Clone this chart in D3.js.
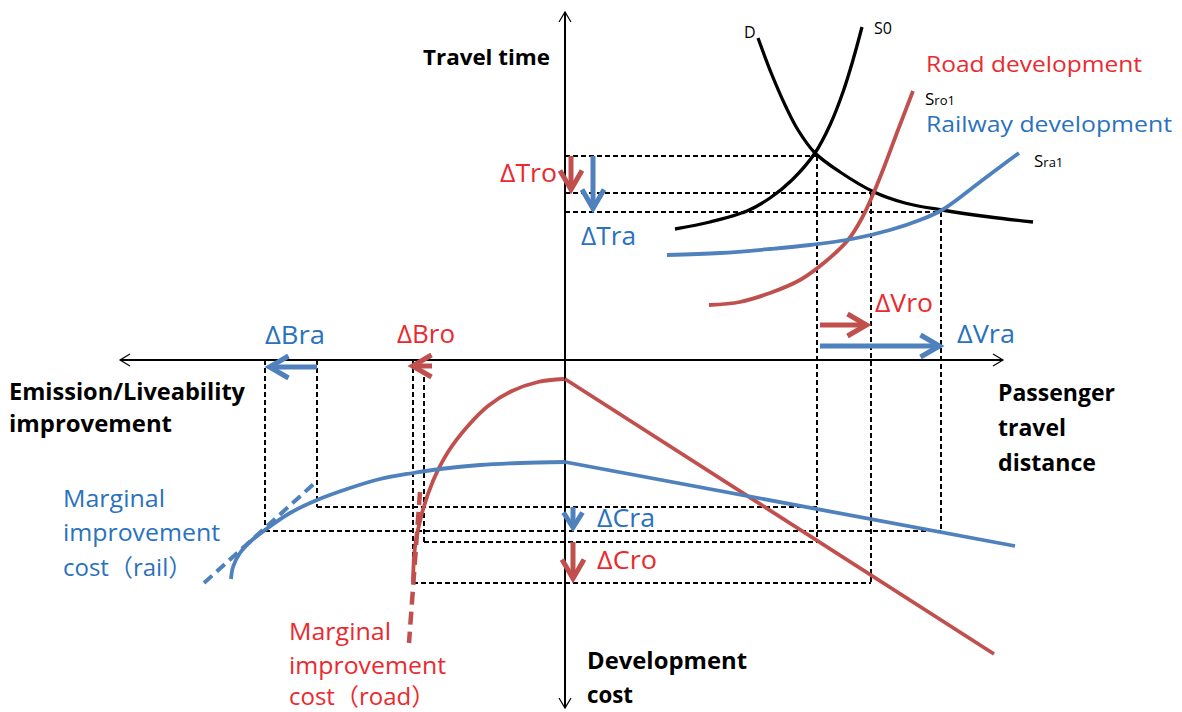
<!DOCTYPE html>
<html><head><meta charset="utf-8">
<script src="https://cdn.jsdelivr.net/npm/d3@7"></script>
<style>body{margin:0;background:#fff}svg{display:block}</style>
</head><body>
<svg id="chart" width="1182" height="712"></svg>
<script>
// ---------- DATA (abstract diagram units; origin = axes crossing) ----------
// Top-right quadrant: travel distance (x) vs travel time (y)
const demandD    = [[19.3,32.2],[20.7,28.5],[22.1,25.3],[23.3,23.0],[25.0,20.7],[27.5,18.8],[30.9,16.8],[34.0,15.7],[37.7,15.0],[42.5,14.3],[46.8,13.8]];
const supplyS0   = [[11.0,13.1],[14.5,13.8],[18.2,14.9],[20.5,16.2],[22.7,18.0],[25.0,20.7],[26.5,23.5],[27.8,26.8],[28.8,30.0],[29.7,33.3]];
const supplyRoad = [[14.4,5.5],[17.5,5.8],[20.5,6.7],[23.5,8.0],[26.0,9.8],[28.3,12.0],[29.7,14.2],[30.9,16.8],[32.1,19.8],[33.3,23.0],[34.8,26.9]];
const supplyRail = [[10.2,10.5],[15.5,10.7],[20.5,11.1],[24.5,11.5],[28.7,12.1],[32.5,13.0],[35.5,14.0],[37.7,15.0],[41.5,17.8],[43.5,19.3],[45.4,20.7]];
// Bottom: development cost (negative y) vs improvement (negative x) and distance (positive x)
const roadImproveCurve = [[-15.2,-22.2],[-15.0,-18.7],[-14.3,-15.3],[-13.2,-12.1],[-11.7,-9.2],[-9.8,-6.7],[-7.7,-4.6],[-5.3,-3.1],[-2.7,-2.2],[-0.1,-1.9]];
const roadCostLine     = [[0,-1.9],[42.9,-29.4]];
const railImproveCurve = [[-33.4,-21.9],[-33.2,-20.7],[-32.5,-19.3],[-31.4,-18.1],[-30.0,-17.0],[-27.5,-15.3],[-24.8,-14.0],[-21.5,-12.8],[-18.5,-11.9],[-15.2,-11.3],[-12.5,-10.9],[-8.5,-10.5],[-4.5,-10.3],[0,-10.2]];
const railCostLine     = [[0,-10.2],[45.0,-18.6]];
const railMarginalTangent = [[-36.1,-22.3],[-24.8,-12.1]];
const roadMarginalTangent = [[-14.5,-13.2],[-15.6,-28.3]];
// Equilibrium levels
const distanceLevels = [25.2, 30.6, 37.6];          // V0, Vro, Vra
const timeLevels     = [20.4, 16.7, 14.8];          // T0, Tro, Tra
const costLevels     = [-14.7, -17.1, -18.2, -22.3];// Cra0, Cra1, Cro0, Cro1
const benefitLevels  = [-24.8, -30.0, -14.1, -15.2];// Bra0, Bra1, Bro0, Bro1
// Axis extents
const xAxisExtent = [-44.5, 43.8];
const yAxisExtent = [-34.8, 34.8];

// ---------- RENDER ----------
const svg = d3.select('#chart');
const x = d3.scaleLinear().domain([-56.5, 61.7]).range([0, 1182]);
const y = d3.scaleLinear().domain([-35.2, 36]).range([712, 0]);

const RED_LINE = '#c0504d', BLUE_LINE = '#4f81bd';
const RED_TEXT = '#ea2a2e', BLUE_TEXT = '#2a72bd';
const FONT = "'Open Sans','Noto Sans CJK JP',sans-serif";

const smooth = d3.line().x(d => x(d[0])).y(d => y(d[1])).curve(d3.curveCatmullRom.alpha(0.5));
const straight = d3.line().x(d => x(d[0])).y(d => y(d[1]));

// guides (dashed)
const [V0, Vro, Vra] = distanceLevels;
const [T0, Tro, Tra] = timeLevels;
const [Cra0, Cra1, Cro0, Cro1] = costLevels;
const [Bra0, Bra1, Bro0, Bro1] = benefitLevels;
const guides = [
  [[0,T0],[V0,T0]], [[0,Tro],[Vro,Tro]], [[0,Tra],[Vra,Tra]],
  [[V0,T0],[V0,Cro0-0.1]], [[Vro,Tro],[Vro,Cro1]], [[Vra,Tra],[Vra,Cra1]],
  [[Bra1,0],[Bra1,Cra1]], [[Bra0,0],[Bra0,Cra0]], [[Bro1,0],[Bro1,Cro1]], [[Bro0,-1.7],[Bro0,Cro0]],
  [[Bra0,Cra0],[V0,Cra0]], [[Bra1,Cra1],[Vra,Cra1]], [[Bro0,Cro0],[V0,Cro0]], [[Bro1,Cro1],[Vro,Cro1]]
];
svg.append('g').selectAll('path').data(guides).join('path')
  .attr('d', straight).attr('fill','none').attr('stroke','#000')
  .attr('stroke-width',1.1).attr('stroke-dasharray','5,3').attr('shape-rendering','crispEdges');

// axes
const axes = svg.append('g').attr('stroke','#000').attr('stroke-width',1.2).attr('fill','none');
axes.append('line').attr('x1',x(xAxisExtent[0])).attr('x2',x(xAxisExtent[1])).attr('y1',y(0)).attr('y2',y(0)).attr('shape-rendering','crispEdges');
axes.append('line').attr('x1',x(0)).attr('x2',x(0)).attr('y1',y(yAxisExtent[0])).attr('y2',y(yAxisExtent[1])).attr('shape-rendering','crispEdges');
function chevron(g, tx, ty, ux, uy, back, out) {
  const px = -uy, py = ux;
  return g.append('path').attr('d',
    `M${tx-ux*back+px*out},${ty-uy*back+py*out}L${tx},${ty}L${tx-ux*back-px*out},${ty-uy*back-py*out}`);
}
chevron(axes, x(xAxisExtent[1]), y(0), 1, 0, 10, 6);
chevron(axes, x(xAxisExtent[0]), y(0), -1, 0, 10, 6);
chevron(axes, x(0), y(yAxisExtent[1]), 0, -1, 10, 6);
chevron(axes, x(0), y(yAxisExtent[0]), 0, 1, 10, 6);

// curves
const curves = svg.append('g').attr('fill','none');
curves.append('path').attr('d', smooth(demandD)).attr('stroke','#000').attr('stroke-width',3.3);
curves.append('path').attr('d', smooth(supplyS0)).attr('stroke','#000').attr('stroke-width',3.3);
curves.append('path').attr('d', smooth(supplyRoad)).attr('stroke',RED_LINE).attr('stroke-width',3.8);
curves.append('path').attr('d', smooth(supplyRail)).attr('stroke',BLUE_LINE).attr('stroke-width',3.8);
curves.append('path').attr('d', smooth(roadImproveCurve)).attr('stroke',RED_LINE).attr('stroke-width',3.8);
curves.append('path').attr('d', straight(roadCostLine)).attr('stroke',RED_LINE).attr('stroke-width',3.8);
curves.append('path').attr('d', smooth(railImproveCurve)).attr('stroke',BLUE_LINE).attr('stroke-width',3.8);
curves.append('path').attr('d', straight(railCostLine)).attr('stroke',BLUE_LINE).attr('stroke-width',3.8);
curves.append('path').attr('d', straight(railMarginalTangent)).attr('stroke',BLUE_LINE).attr('stroke-width',4).attr('stroke-dasharray','11,6');
curves.append('path').attr('d', straight(roadMarginalTangent)).attr('stroke',RED_LINE).attr('stroke-width',4.5).attr('stroke-dasharray','13,7');

// change arrows
const arrows = [
  {from:[0.6,T0], to:[0.6,Tro], c:RED_LINE},
  {from:[2.8,T0], to:[2.8,Tra], c:BLUE_LINE},
  {from:[25.5,3.5], to:[30.5,3.5], c:RED_LINE},
  {from:[25.5,1.4], to:[37.8,1.4], c:BLUE_LINE},
  {from:[Bra0,-0.7], to:[Bra1+0.1,-0.7], c:BLUE_LINE},
  {from:[-13.3,-0.6], to:[Bro1-0.4,-0.6], c:RED_LINE},
  {from:[0.8,Cra0], to:[0.8,Cra1], c:BLUE_LINE, small:true},
  {from:[0.8,Cro0], to:[0.8,Cro1+0.1], c:RED_LINE}
];
const ag = svg.append('g').attr('fill','none');
arrows.forEach(a => {
  const x1 = x(a.from[0]), y1 = y(a.from[1]), x2 = x(a.to[0]), y2 = y(a.to[1]);
  const L = Math.hypot(x2-x1, y2-y1), ux = (x2-x1)/L, uy = (y2-y1)/L;
  const tx = x2 - ux*3.5, ty = y2 - uy*3.5;
  ag.append('line').attr('x1',x1).attr('y1',y1).attr('x2',tx-ux*2).attr('y2',ty-uy*2)
    .attr('stroke',a.c).attr('stroke-width',5);
  const back = a.small ? 15 : 19, out = a.small ? 9.5 : 11;
  chevron(ag, tx, ty, ux, uy, back, out).attr('stroke',a.c).attr('stroke-width',5)
    .attr('stroke-linejoin','miter').attr('stroke-miterlimit',10);
});

// text labels: [text, x, baseline, size, weight, color, width]
const labels = [
  ['Travel time', 423, 65, 22, 700, '#000', 127],
  ['D', 744, 38, 16, 400, '#000', 0],
  ['S0', 874, 34, 16, 400, '#000', 0],
  ['Road development', 926, 72, 22, 400, RED_TEXT, 216],
  ['Railway development', 926, 132, 22, 400, BLUE_TEXT, 246],
  ['ΔTro', 500, 182, 26, 400, RED_TEXT, 57],
  ['ΔTra', 581, 245, 26, 400, BLUE_TEXT, 55],
  ['ΔVro', 875, 312, 26, 400, RED_TEXT, 58],
  ['ΔVra', 957, 343, 26, 400, BLUE_TEXT, 58],
  ['ΔBra', 265, 344, 26, 400, BLUE_TEXT, 60],
  ['ΔBro', 397, 343, 26, 400, RED_TEXT, 58],
  ['ΔCra', 597, 527, 26, 400, BLUE_TEXT, 58],
  ['ΔCro', 597, 569, 26, 400, RED_TEXT, 60],
  ['Emission/Liveability', 9, 400, 23, 700, '#000', 236],
  ['improvement', 9, 432, 23, 700, '#000', 163],
  ['Passenger', 998, 401, 23, 700, '#000', 117],
  ['travel', 998, 436, 23, 700, '#000', 68],
  ['distance', 998, 471, 23, 700, '#000', 98],
  ['Development', 587, 669, 23, 700, '#000', 160],
  ['cost', 587, 703, 23, 700, '#000', 46],
  ['Marginal', 63, 507, 24, 400, BLUE_TEXT, 102],
  ['improvement', 63, 541, 24, 400, BLUE_TEXT, 157],
  ['cost（rail）', 63, 576, 24, 400, BLUE_TEXT, 0],
  ['Marginal', 289, 640, 24, 400, RED_TEXT, 102],
  ['improvement', 289, 674, 24, 400, RED_TEXT, 157],
  ['cost（road）', 289, 705, 24, 400, RED_TEXT, 0]
];
const tg = svg.append('g').attr('font-family', FONT);
labels.forEach(([t, lx, ly, fs, fw, col, w]) => {
  const el = tg.append('text').attr('x',lx).attr('y',ly).attr('font-size',fs)
    .attr('font-weight',fw).attr('fill',col).text(t);
  if (w) el.attr('textLength', w).attr('lengthAdjust','spacingAndGlyphs');
});
// supply-curve labels with small suffix
[['S','ro1',925,105],['S','ra1',1034,167]].forEach(([a,b,lx,ly]) => {
  const el = tg.append('text').attr('x',lx).attr('y',ly).attr('fill','#000');
  el.append('tspan').attr('font-size',17).text(a);
  el.append('tspan').attr('font-size',13).text(b);
});
</script>
</body></html>
